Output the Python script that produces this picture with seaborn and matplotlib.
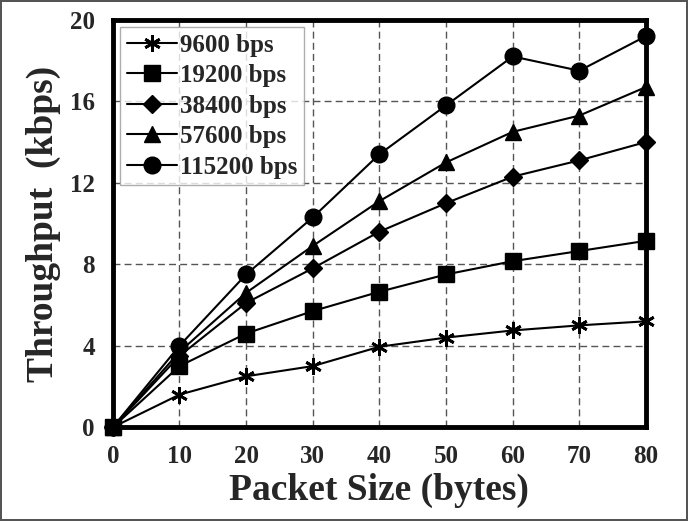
import numpy as np
import matplotlib
matplotlib.use("Agg")
import matplotlib.pyplot as plt
import seaborn as sns
import pandas as pd

packet_size = [0, 10, 20, 30, 40, 50, 60, 70, 80]
rates = ["9600 bps", "19200 bps", "38400 bps", "57600 bps", "115200 bps"]
tp_9600 = [0, 1.6, 2.5, 3.0, 3.95, 4.4, 4.75, 5.0, 5.2]
tp_19200 = [0, 3.0, 4.6, 5.7, 6.65, 7.5, 8.15, 8.65, 9.15]
tp_38400 = [0, 3.5, 6.1, 7.8, 9.6, 11.0, 12.3, 13.1, 14.0]
tp_57600 = [0, 3.7, 6.6, 8.9, 11.1, 13.0, 14.5, 15.3, 16.7]
tp_115200 = [0, 4.0, 7.5, 10.3, 13.4, 15.8, 18.2, 17.5, 19.2]

df = pd.DataFrame({
    "size": packet_size * 5,
    "tp": tp_9600 + tp_19200 + tp_38400 + tp_57600 + tp_115200,
    "rate": [r for r in rates for _ in packet_size],
})

sns.set_style("white")
plt.rcParams["font.family"] = ["Liberation Serif", "DejaVu Serif"]
plt.rcParams["font.weight"] = "bold"

fig = plt.figure(figsize=(6.88, 5.21), dpi=100)
fig.patch.set_edgecolor("#555555")
fig.patch.set_linewidth(1.5)
ax = fig.add_axes([0.164, 0.180, 0.775, 0.782])

markers = {"9600 bps": (6, 2, 0), "19200 bps": "s", "38400 bps": "D",
           "57600 bps": "^", "115200 bps": "o"}
sizes = {"9600 bps": 12, "19200 bps": 11, "38400 bps": 9,
         "57600 bps": 11, "115200 bps": 12}

for r in rates:
    sub = df[df["rate"] == r]
    sns.lineplot(data=sub, x="size", y="tp", ax=ax, color="black",
                 marker=markers[r], markersize=sizes[r],
                 markeredgewidth=2 if r == "9600 bps" else 1,
                 markeredgecolor="black", linewidth=1.5, label=r, clip_on=False)

ax.set_xlim(0, 80)
ax.set_ylim(0, 20)
ax.set_xticks(range(0, 81, 10))
ax.set_yticks(range(0, 21, 4))
ax.grid(True, linestyle=(0, (5, 3)), color="#555555", linewidth=1)
ax.set_axisbelow(True)
for s in ax.spines.values():
    s.set_linewidth(3.5)
    s.set_color("black")
    s.set_zorder(1)
ax.tick_params(axis="both", direction="out", length=5, width=1, labelsize=18, pad=8)
for lab in ax.get_xticklabels() + ax.get_yticklabels():
    lab.set_fontweight("bold")

ax.set_xlabel("Packet Size (bytes)", fontsize=27, fontweight="bold", labelpad=3)
ax.set_ylabel("Throughput  (kbps)", fontsize=27, fontweight="bold", labelpad=6)

leg = ax.legend(loc="upper left", fontsize=18, frameon=True, fancybox=False,
                edgecolor="#999999", handlelength=2.0, borderpad=0.25,
                labelspacing=0.3, handletextpad=0.15, borderaxespad=0.3)
leg.get_frame().set_linewidth(1)
for t in leg.get_texts():
    t.set_fontweight("bold")

fig.savefig("out.png", dpi=100)
